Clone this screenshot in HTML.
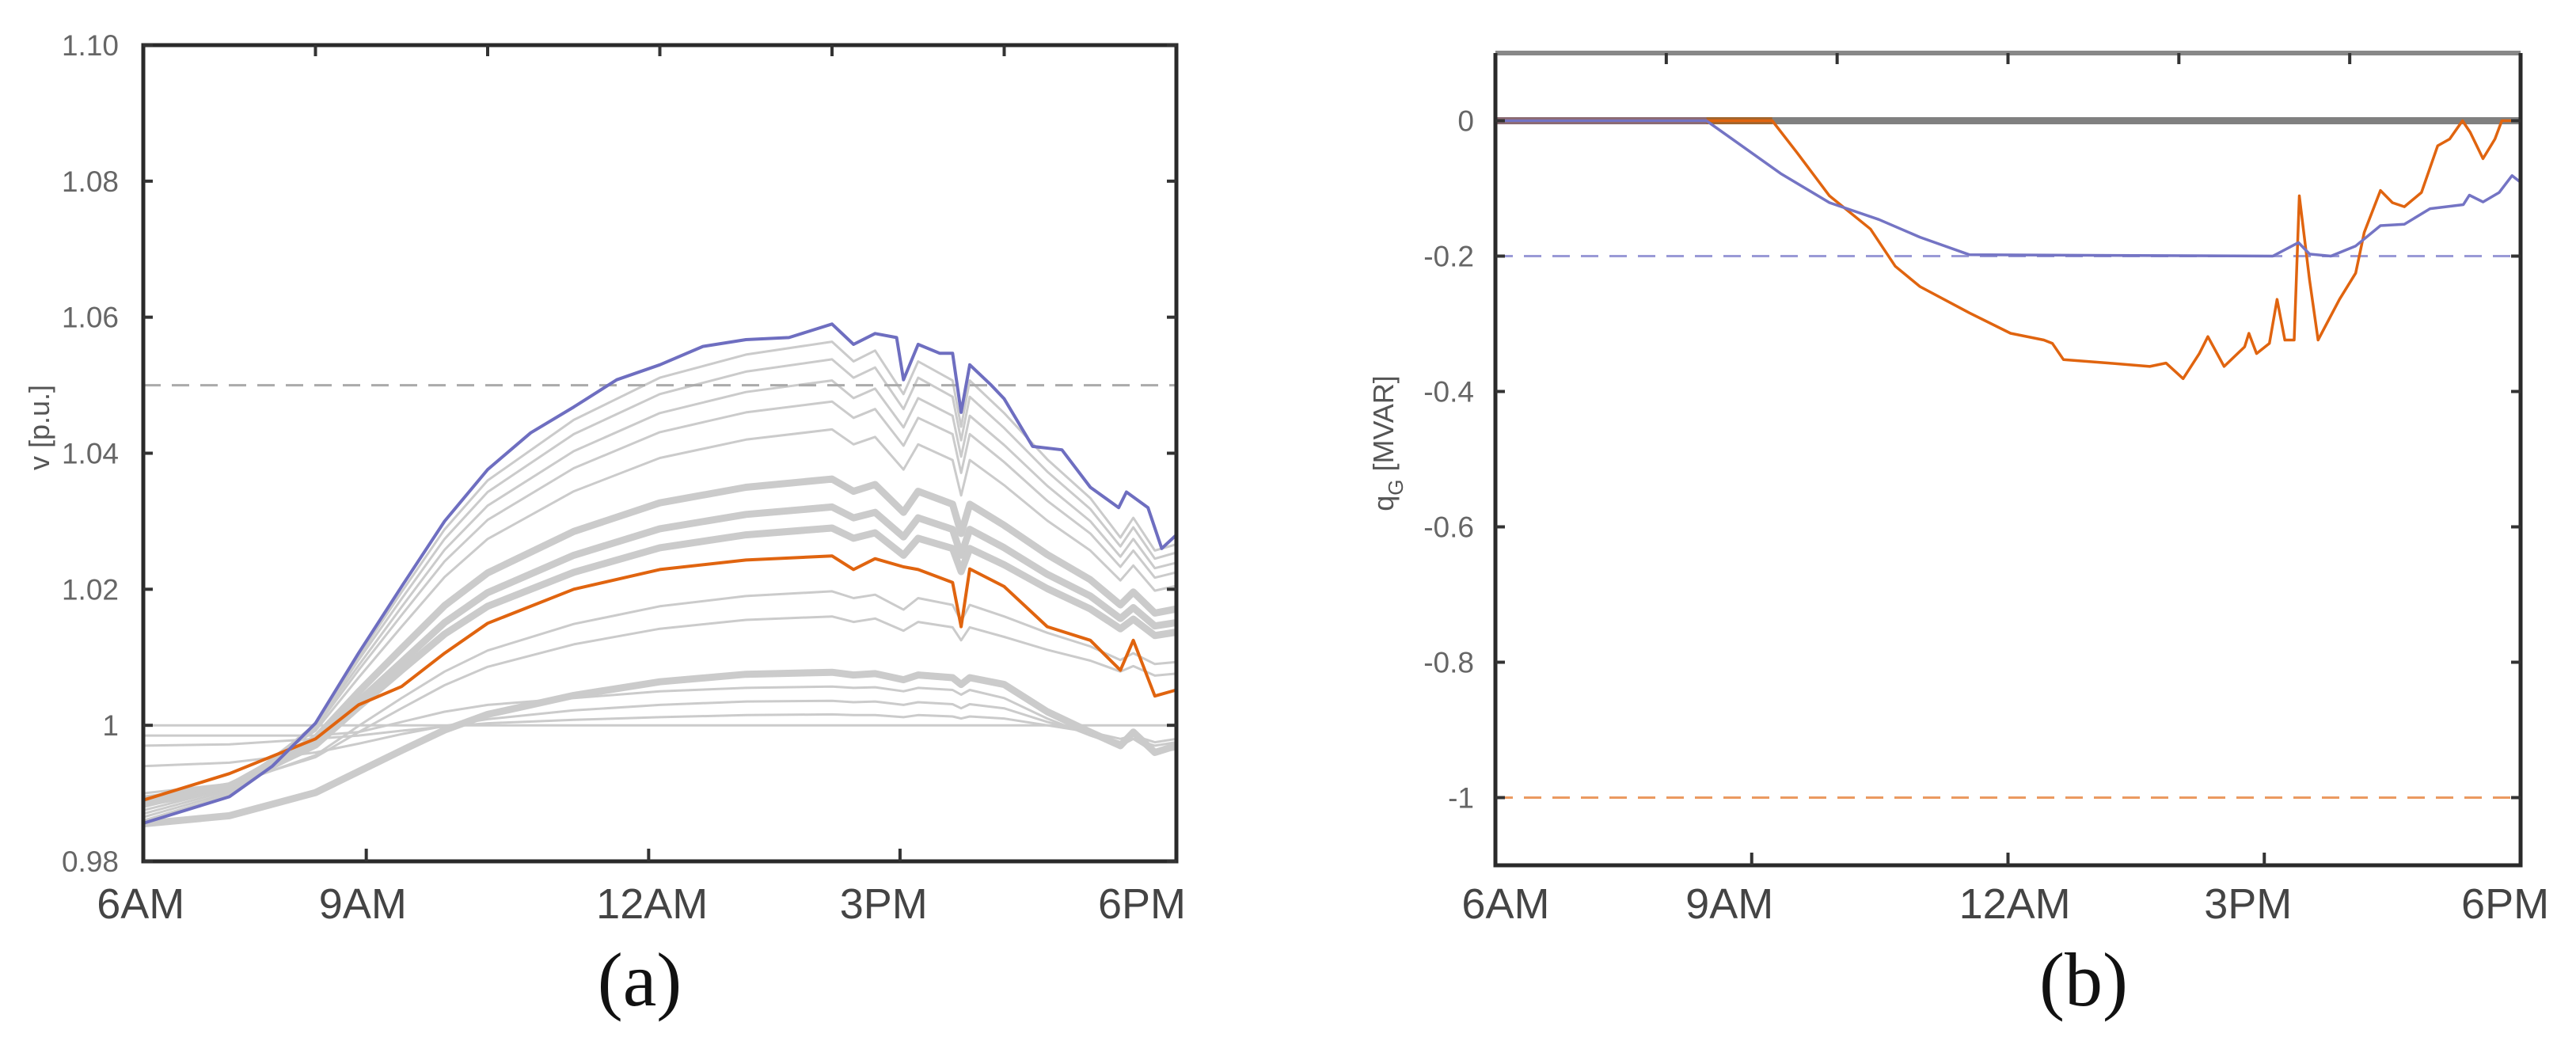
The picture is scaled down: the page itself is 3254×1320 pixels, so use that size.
<!DOCTYPE html>
<html><head><meta charset="utf-8"><style>
html,body{margin:0;padding:0;background:#fff;}
svg{display:block;font-family:"Liberation Sans",sans-serif;}
</style></head><body>
<svg id="fig" width="3254" height="1320" viewBox="0 0 3254 1320" xmlns="http://www.w3.org/2000/svg">
<g id="pa"></g>
<g id="pb"></g>
<text x="808" y="1270" text-anchor="middle" font-family="Liberation Serif, serif" font-size="96" fill="#111">(a)</text>
<text x="2632" y="1270" text-anchor="middle" font-family="Liberation Serif, serif" font-size="96" fill="#111">(b)</text>
</svg>
<script>
// ---------- Panel (a) data ----------
const aGrayT = [6,7,8,8.5,9,9.5,10,11,12,13,14,14.25,14.5,14.83,15,15.4,15.5,15.6,16,16.5,17,17.35,17.5,17.75,18];
const aGray1 = [.986,.9898,1.0002,1.0101,1.0196,1.0288,1.036,1.0449,1.0511,1.0545,1.0564,1.0535,1.0551,1.0487,1.0535,1.0507,1.0439,1.0507,1.0459,1.0391,1.0334,1.0276,1.0305,1.0257,1.0266];
const aGray2 = [.9865,.9901,1.0001,1.0096,1.0186,1.0274,1.0343,1.0428,1.0487,1.052,1.0538,1.0511,1.0526,1.0465,1.0511,1.0483,1.0419,1.0483,1.0437,1.0373,1.0318,1.0263,1.0291,1.0245,1.0254];
const aGray3 = [.987,.9904,1.0,1.0088,1.0174,1.0258,1.0323,1.0403,1.0459,1.049,1.0507,1.0481,1.0495,1.0438,1.0481,1.0455,1.0395,1.0455,1.0412,1.0352,1.03,1.0248,1.0274,1.0231,1.0239];
const aGray4 = [.9875,.9907,.9996,1.0081,1.0162,1.0241,1.0302,1.0378,1.0431,1.046,1.0476,1.0452,1.0465,1.0411,1.0452,1.0428,1.0371,1.0428,1.0387,1.033,1.0282,1.0233,1.0257,1.0217,1.0225];
const aGray5 = [.988,.991,.9992,1.007,1.0145,1.0218,1.0274,1.0344,1.0393,1.042,1.0435,1.0413,1.0424,1.0376,1.0413,1.039,1.0338,1.039,1.0353,1.0301,1.0257,1.0213,1.0235,1.0198,1.0205];
const aGray6 = [.9885,.991,.9981,1.0049,1.0113,1.0176,1.0224,1.0285,1.0327,1.035,1.0362,1.0344,1.0354,1.0313,1.0344,1.0325,1.0282,1.0325,1.0294,1.0251,1.0214,1.0177,1.0196,1.0165,1.0171];
const aGray7 = [.9885,.9908,.9973,1.0035,1.0093,1.0151,1.0195,1.025,1.0289,1.031,1.0321,1.0305,1.0313,1.0277,1.0305,1.0288,1.025,1.0288,1.0261,1.0222,1.019,1.0157,1.0173,1.0146,1.0151];
const aGray8 = [.989,.9911,.9971,1.0027,1.0081,1.0134,1.0175,1.0225,1.0261,1.028,1.029,1.0275,1.0283,1.025,1.0275,1.026,1.0226,1.026,1.0236,1.0201,1.0171,1.0142,1.0156,1.0132,1.0137];
const aGray9 = [.9895,.9911,.9956,.9999,1.004,1.0079,1.011,1.0149,1.0175,1.019,1.0197,1.0187,1.0192,1.017,1.0187,1.0177,1.0153,1.0177,1.016,1.0136,1.0116,1.0096,1.0106,1.009,1.0093];
const aGray10 = [.99,.9914,.9953,.999,1.0025,1.0059,1.0086,1.0119,1.0142,1.0155,1.016,1.0152,1.0157,1.0139,1.0152,1.0144,1.0125,1.0144,1.013,1.0111,1.0095,1.0079,1.0087,1.0073,1.0076];
const aGray11 = [.9855,.9867,.9901,.9932,.9963,.9993,1.0016,1.0044,1.0064,1.0075,1.0078,1.0074,1.0076,1.0067,1.0074,1.007,1.006,1.007,1.006,1.002,.999,.997,.999,.996,.997];
const aGray12 = [.994,.9945,.996,.9973,.9987,.9999,1.0009,1.0022,1.003,1.0035,1.0036,1.0034,1.0035,1.003,1.0034,1.0031,1.0025,1.0031,1.0025,1.0005,.999,.9975,.998,.997,.9975];
const aGray13 = [.997,.9972,.998,.9985,.9992,.9998,1.0003,1.0008,1.0012,1.0015,1.0016,1.0015,1.0015,1.0012,1.0015,1.0013,1.001,1.0013,1.001,1.0,.999,.998,.9985,.9975,.998];
const aGray14 = [1,1,1,1,1,1,1,1,1,1,1,1,1,1,1,1,1,1,1,1,1,1,1,1,1];
const aGray15 = [.9985,.9985,.9985,.999,1.0005,1.002,1.003,1.004,1.005,1.0055,1.0057,1.0055,1.0056,1.005,1.0055,1.0052,1.0045,1.0052,1.004,1.001,.9985,.997,.998,.996,.9965];
const aGrayThick = [false,false,false,false,false,true,true,true,false,false,true,false,false,false,false];
const aOrange = [.989,.9929,.998,1.003,1.0057,1.0106,1.015,1.02,1.0229,1.0243,1.0249,1.0229,1.0245,1.0233,1.0229,1.021,1.0145,1.023,1.0204,1.0145,1.0125,1.0081,1.0125,1.0043,1.0052];
const aBlueT = [6,7,7.5,8,8.5,9,9.5,10,10.5,11,11.5,12,12.5,13,13.5,14,14.25,14.5,14.75,14.83,15,15.25,15.4,15.5,15.6,15.85,16,16.33,16.67,17,17.33,17.42,17.67,17.83,18];
const aBlue = [.9856,.9895,.994,1.0003,1.0106,1.0204,1.03,1.0376,1.043,1.0468,1.0508,1.053,1.0557,1.0567,1.057,1.059,1.056,1.0576,1.057,1.0508,1.056,1.0547,1.0547,1.046,1.053,1.05,1.048,1.041,1.0405,1.035,1.032,1.0343,1.032,1.026,1.028];
const aLimit = 1.05;
const aYTicks = [0.98,1,1.02,1.04,1.06,1.08,1.10];
const aYTickLabels = ["0.98","1","1.02","1.04","1.06","1.08","1.10"];
const aXTickHours = [8.59,11.87,14.79];
const aXLabels = ["6AM","9AM","12AM","3PM","6PM"];
const aXLabelHours = [5.97,8.55,11.91,14.6,17.6];
const aTopTicks = [8,10,12,14,16];

// ---------- Panel (b) data ----------
const bBlueT = [6,8.47,9.34,9.91,10.49,10.97,11.55,15.1,15.4,15.53,15.78,16.07,16.36,16.64,16.94,17.33,17.4,17.56,17.75,17.9,18];
const bBlue = [0,0,-0.078,-0.121,-0.146,-0.172,-0.198,-0.2,-0.18,-0.197,-0.2,-0.185,-0.155,-0.153,-0.13,-0.124,-0.11,-0.12,-0.106,-0.081,-0.091];
const bOrangeT = [6,9.24,9.53,9.91,10.39,10.68,10.97,11.55,12.03,12.42,12.52,12.65,13.18,13.66,13.85,14.05,14.24,14.34,14.53,14.77,14.82,14.91,15.06,15.15,15.24,15.35,15.41,15.53,15.63,15.88,16.07,16.17,16.36,16.5,16.64,16.84,17.03,17.17,17.32,17.41,17.56,17.7,17.78,18];
const bOrange = [0,0,-0.047,-0.111,-0.16,-0.215,-0.245,-0.284,-0.314,-0.324,-0.329,-0.353,-0.358,-0.363,-0.358,-0.381,-0.344,-0.319,-0.363,-0.334,-0.314,-0.344,-0.329,-0.264,-0.324,-0.324,-0.111,-0.235,-0.324,-0.264,-0.225,-0.165,-0.103,-0.121,-0.127,-0.106,-0.037,-0.027,0,-0.017,-0.056,-0.027,0,0];
const bBlueLimit = -0.2;
const bOrangeLimit = -1;
const bYTicks = [-1,-0.8,-0.6,-0.4,-0.2,0];
const bYTickLabels = ["-1","-0.8","-0.6","-0.4","-0.2","0"];
const bXTickHours = [9,12,15];
const bXLabels = ["6AM","9AM","12AM","3PM","6PM"];
const bXLabelHours = [6.12,8.74,12.08,14.81,17.82];
const bTopTicks = [8,10,12,14,16];

const NS = "http://www.w3.org/2000/svg";
function mk(parent, tag, attrs, text){
  const e = document.createElementNS(NS, tag);
  for (const k in attrs) e.setAttribute(k, attrs[k]);
  if (text !== undefined) e.textContent = text;
  parent.appendChild(e);
  return e;
}
function pts(T, V, sx, sy){ return T.map((t,i)=>sx(t).toFixed(1)+","+sy(V[i]).toFixed(1)).join(" "); }

// ===== Panel A =====
(function(){
  const g = document.getElementById('pa');
  const L=181, R=1486, T=57, B=1088;
  const sx = h => L + (h-6)/12*(R-L);
  const sy = v => B - (v-0.98)/0.12*(B-T);
  const grays = [aGray1,aGray2,aGray3,aGray4,aGray5,aGray6,aGray7,aGray8,aGray9,aGray10,aGray11,aGray12,aGray13,aGray14,aGray15];
  grays.forEach((arr,i)=>{
    const p = mk(g,'polyline',{points:pts(aGrayT,arr,sx,sy),fill:'none',stroke:'#cbcbcb','stroke-width':aGrayThick[i]?9:3,'stroke-linejoin':'round'});
    
    
  });
  const lim = mk(g,'line',{x1:L,x2:R,y1:sy(aLimit),y2:sy(aLimit),stroke:'#aaa','stroke-width':3,'stroke-dasharray':'22 14'});
  
  
  const o = mk(g,'polyline',{points:pts(aGrayT,aOrange,sx,sy),fill:'none',stroke:'#e0640f','stroke-width':4,'stroke-linejoin':'round'});
  
  
  const b = mk(g,'polyline',{points:pts(aBlueT,aBlue,sx,sy),fill:'none',stroke:'#6e6ec0','stroke-width':4,'stroke-linejoin':'round'});
  
  
  // frame
  const fr = mk(g,'path',{d:`M${L},${T} H${R} V${B} H${L} Z`,fill:'none',stroke:'#2a2a2a','stroke-width':5});
  
  
  aYTicks.forEach((v,i)=>{
    const y=sy(v);
    mk(g,'line',{x1:L,x2:L+12,y1:y,y2:y,stroke:'#333','stroke-width':4});
    mk(g,'line',{x1:R,x2:R-12,y1:y,y2:y,stroke:'#333','stroke-width':4});
    const t = mk(g,'text',{x:150,y:y+13,'text-anchor':'end','font-size':37,fill:'#666'},aYTickLabels[i]);
    
    
  });
  aXTickHours.forEach(h=>{ mk(g,'line',{x1:sx(h),x2:sx(h),y1:B,y2:B-16,stroke:'#333','stroke-width':4}); });
  aTopTicks.forEach(h=>{ mk(g,'line',{x1:sx(h),x2:sx(h),y1:T,y2:T+14,stroke:'#333','stroke-width':4}); });
  aXLabels.forEach((s,i)=>{
    const t = mk(g,'text',{x:sx(aXLabelHours[i]),y:1160,'text-anchor':'middle','font-size':54,fill:'#444'},s);
    
    
  });
  const yl = mk(g,'text',{x:0,y:0,transform:'translate(62,540) rotate(-90)','text-anchor':'middle','font-size':36,fill:'#555'},'v  [p.u.]');
  
  
})();

// ===== Panel B =====
(function(){
  const g = document.getElementById('pb');
  const L=1889, R=3184, T=67, B=1093;
  const sx = h => L + (h-6)/12*(R-L);
  const sy = v => B - (v+1.1)/1.2*(B-T);
  const z = mk(g,'line',{x1:L,x2:R,y1:sy(0),y2:sy(0),stroke:'#808080','stroke-width':9});
  
  
  // leading zero runs of each series on the zero line
  function zeroRun(Tarr,Varr){ let i=0; while(i+1<Varr.length && Varr[i+1]===0) i++; return Tarr[i]; }
  const oz = zeroRun(bOrangeT,bOrange), bz = zeroRun(bBlueT,bBlue);
  mk(g,'line',{x1:L,x2:sx(oz),y1:sy(0),y2:sy(0),stroke:'#a0652e','stroke-width':9});
  mk(g,'line',{x1:L,x2:sx(Math.min(oz,bz)),y1:sy(0),y2:sy(0),stroke:'#8a6a72','stroke-width':9});
  const l1 = mk(g,'line',{x1:L,x2:R,y1:sy(bBlueLimit),y2:sy(bBlueLimit),stroke:'#9a9ad6','stroke-width':3,'stroke-dasharray':'22 14'});
  
  
  const l2 = mk(g,'line',{x1:L,x2:R,y1:sy(bOrangeLimit),y2:sy(bOrangeLimit),stroke:'#eb9a60','stroke-width':3,'stroke-dasharray':'22 14'});
  
  
  const o = mk(g,'polyline',{points:pts(bOrangeT,bOrange,sx,sy),fill:'none',stroke:'#e0640f','stroke-width':3.5,'stroke-linejoin':'round'});
  
  
  const b = mk(g,'polyline',{points:pts(bBlueT,bBlue,sx,sy),fill:'none',stroke:'#7474c4','stroke-width':3.5,'stroke-linejoin':'round'});
  
  
  mk(g,'line',{x1:L,x2:R,y1:T,y2:T,stroke:'#888','stroke-width':6});
  const fr = mk(g,'path',{d:`M${L},${T} V${B} H${R} V${T}`,fill:'none',stroke:'#2a2a2a','stroke-width':5});
  
  
  bYTicks.forEach((v,i)=>{
    const y=sy(v);
    mk(g,'line',{x1:L,x2:L+12,y1:y,y2:y,stroke:'#333','stroke-width':4});
    mk(g,'line',{x1:R,x2:R-12,y1:y,y2:y,stroke:'#333','stroke-width':4});
    const t = mk(g,'text',{x:1862,y:y+13,'text-anchor':'end','font-size':37,fill:'#666'},bYTickLabels[i]);
    
    
  });
  bXTickHours.forEach(h=>{ mk(g,'line',{x1:sx(h),x2:sx(h),y1:B,y2:B-16,stroke:'#333','stroke-width':4}); });
  bTopTicks.forEach(h=>{ mk(g,'line',{x1:sx(h),x2:sx(h),y1:T,y2:T+14,stroke:'#333','stroke-width':4}); });
  bXLabels.forEach((s,i)=>{
    const t = mk(g,'text',{x:sx(bXLabelHours[i]),y:1160,'text-anchor':'middle','font-size':54,fill:'#444'},s);
    
    
  });
  const yl = mk(g,'text',{x:0,y:0,transform:'translate(1760,560) rotate(-90)','text-anchor':'middle','font-size':36,fill:'#555'});
  
  
  mk(yl,'tspan',{},'q');
  mk(yl,'tspan',{'font-size':26,dy:12},'G');
  mk(yl,'tspan',{dy:-12},'   [MVAR]');
})();
</script>
</body></html>
